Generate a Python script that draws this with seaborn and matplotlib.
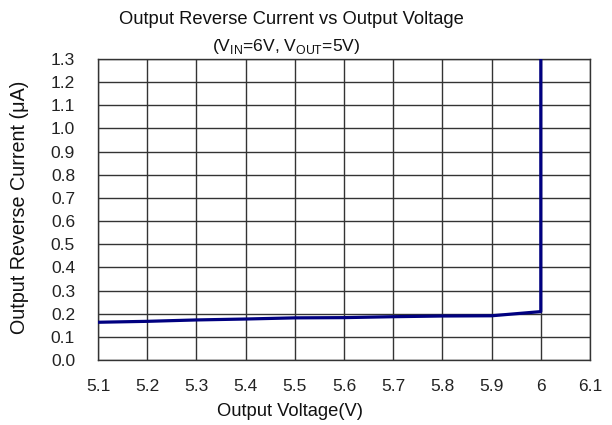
import numpy as np
import pandas as pd
import seaborn as sns
import matplotlib
matplotlib.use("Agg")
import matplotlib.pyplot as plt

voltage = [5.1, 5.2, 5.3, 5.4, 5.5, 5.6, 5.7, 5.8, 5.9, 6.0, 6.0]
current = [0.163, 0.167, 0.173, 0.177, 0.182, 0.183, 0.187, 0.19, 0.191, 0.209, 1.4]
x_ticks = [5.1, 5.2, 5.3, 5.4, 5.5, 5.6, 5.7, 5.8, 5.9, 6.0, 6.1]
x_tick_labels = ["5.1", "5.2", "5.3", "5.4", "5.5", "5.6", "5.7", "5.8", "5.9", "6", "6.1"]
y_ticks = [round(0.1 * i, 1) for i in range(14)]
y_tick_labels = [f"{v:.1f}" for v in y_ticks]

sns.set_theme(style="white")
plt.rcParams["font.family"] = ["Liberation Sans", "DejaVu Sans"]
plt.rcParams["mathtext.fontset"] = "custom"
plt.rcParams["mathtext.rm"] = "Liberation Sans"

df = pd.DataFrame({"v": voltage, "i": current})

fig = plt.figure(figsize=(6.12, 4.25), dpi=100)
ax = fig.add_axes([98 / 612, 1 - 360 / 425, (590 - 98) / 612, (360 - 59) / 425])

sns.lineplot(data=df, x="v", y="i", ax=ax, sort=False, color="#000080",
             linewidth=2.3, estimator=None, zorder=5)

ax.set_xlim(5.1, 6.1)
ax.set_ylim(0, 1.3)
ax.set_xticks(x_ticks)
ax.set_xticklabels(x_tick_labels, fontsize=12.5, color="#222222")
ax.set_yticks(y_ticks)
ax.set_yticklabels(y_tick_labels, fontsize=12.5, color="#222222")
ax.tick_params(axis="both", length=0)
ax.tick_params(axis="x", pad=13.5)
ax.tick_params(axis="y", pad=16.5)
ax.grid(True, color="#333333", linewidth=1.0)
for s in ax.spines.values():
    s.set_color("#333333")
    s.set_linewidth(1.0)
ax.set_xlabel("")
ax.set_ylabel("")

fig.text(291 / 612, 1 - 20 / 425, "Output Reverse Current vs Output Voltage",
         ha="center", va="center", fontsize=13.2, color="#111111")
fig.text(286 / 612, 1 - 47 / 425, r"(V$_\mathregular{IN}$=6V, V$_\mathregular{OUT}$=5V)",
         ha="center", va="center", fontsize=12.6, color="#111111")
fig.text(290 / 612, 1 - 411 / 425, "Output Voltage(V)", ha="center", va="center",
         fontsize=13.2, color="#111111")
fig.text(20 / 612, 1 - 207 / 425, "Output Reverse Current (μA)", ha="center",
         va="center", rotation=90, fontsize=14.2, color="#111111")

fig.savefig("out.png", dpi=100)
